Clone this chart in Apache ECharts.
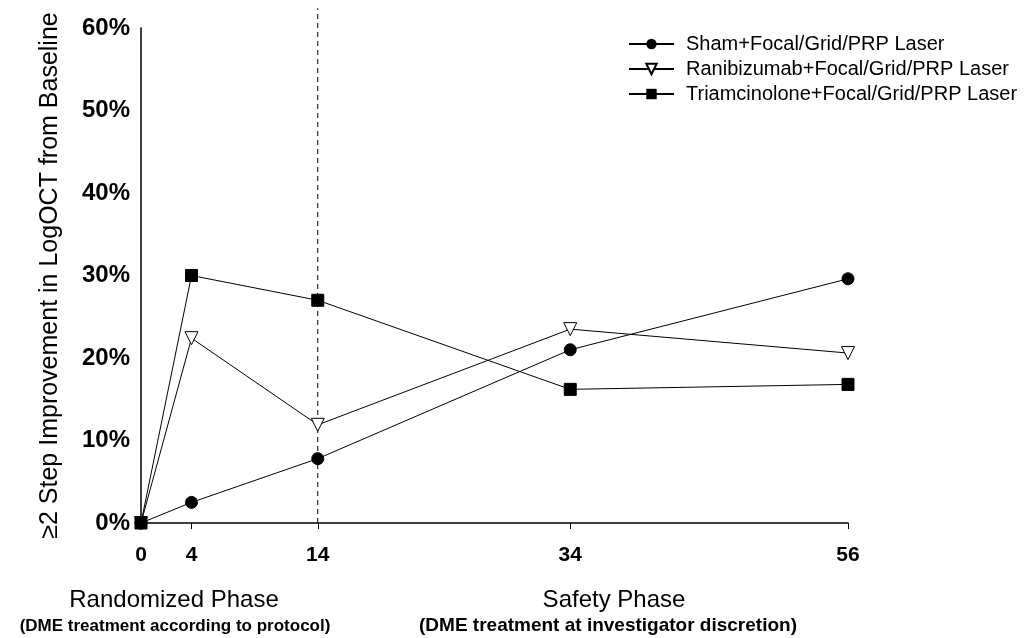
<!DOCTYPE html>
<html><head><meta charset="utf-8">
<script src="https://cdn.jsdelivr.net/npm/echarts@6/dist/echarts.min.js"></script>
<style>html,body{margin:0;padding:0;background:#fff}#c{width:1032px;height:638px}</style>
</head><body><div id="c"></div>
<script>
const weeks = [0, 4, 14, 34, 56];
const xTicks = [0, 4, 14, 34, 56];
const yTicks = [0, 10, 20, 30, 40, 50, 60];
const shamValues = [0, 2.5, 7.8, 21.0, 29.6];
const raniValues = [0, 22.4, 11.9, 23.5, 20.6];
const triamValues = [0, 30.0, 27.0, 16.2, 16.8];
const seriesNames = ['Sham+Focal/Grid/PRP Laser', 'Ranibizumab+Focal/Grid/PRP Laser', 'Triamcinolone+Focal/Grid/PRP Laser'];
const phaseBoundary = 14;
const dividerSpan = [0, 62.4];
const yAxisTitle = '\u22652 Step Improvement in LogOCT from Baseline';

const FONT = 'Liberation Sans, Arial, sans-serif';
const pairs = v => weeks.map((w, i) => [w, v[i]]);
const chart = echarts.init(document.getElementById('c'), null, {renderer: 'canvas'});
const base = {type: 'line', lineStyle: {color: '#000', width: 1}, itemStyle: {color: '#000', borderColor: '#000'}, showSymbol: true, animation: false, z: 3};
chart.setOption({
  animation: false,
  backgroundColor: '#fff',
  grid: {left: 141, right: 184, top: 28, bottom: 115, containLabel: false},
  legend: {
    orient: 'vertical', left: 623, top: 29, itemWidth: 45, itemHeight: 13, itemGap: 5,
    textStyle: {fontFamily: FONT, fontSize: 20, color: '#000', padding: [0, 0, 0, 7]},
    data: seriesNames
  },
  xAxis: {
    type: 'value', min: 0, max: 56,
    axisLine: {lineStyle: {color: '#000', width: 1.5}},
    axisTick: {show: true, customValues: xTicks, length: 6, lineStyle: {color: '#000'}},
    axisLabel: {customValues: xTicks, margin: 22, fontFamily: FONT, fontWeight: 'bold', fontSize: 21, color: '#000'},
    splitLine: {show: false}
  },
  yAxis: {
    type: 'value', min: 0, max: 60, interval: 10,
    name: yAxisTitle, nameLocation: 'middle', nameGap: 78, nameRotate: 90,
    nameTextStyle: {fontFamily: FONT, fontSize: 25, color: '#000'},
    axisLine: {show: true, lineStyle: {color: '#000', width: 1.5}},
    axisTick: {show: false},
    axisLabel: {formatter: '{value}%', margin: 11, fontFamily: FONT, fontWeight: 'bold', fontSize: 24, color: '#000'},
    splitLine: {show: false}
  },
  series: [
    {type: 'line', name: 'divider', data: dividerSpan.map(v => [phaseBoundary, v]), symbol: 'none', clip: false, silent: true,
      lineStyle: {color: '#000', width: 1, type: [5, 4]}, z: 1},
    Object.assign({}, base, {name: seriesNames[0], data: pairs(shamValues), symbol: 'circle', symbolSize: 12}),
    Object.assign({}, base, {name: seriesNames[1], data: pairs(raniValues), symbol: 'triangle', symbolRotate: 180, symbolSize: 13,
      itemStyle: {color: '#fff', borderColor: '#000', borderWidth: 1}}),
    Object.assign({}, base, {name: seriesNames[2], data: pairs(triamValues), symbol: 'rect', symbolSize: 12})
  ],
  graphic: [
    {type: 'text', x: 174, y: 600, style: {text: 'Randomized Phase', font: '24px ' + FONT, fill: '#000', align: 'center', verticalAlign: 'middle'}},
    {type: 'text', x: 175, y: 626, style: {text: '(DME treatment according to protocol)', font: 'bold 17px ' + FONT, fill: '#000', align: 'center', verticalAlign: 'middle'}},
    {type: 'text', x: 614, y: 600, style: {text: 'Safety Phase', font: '24px ' + FONT, fill: '#000', align: 'center', verticalAlign: 'middle'}},
    {type: 'text', x: 608, y: 626, style: {text: '(DME treatment at investigator discretion)', font: 'bold 19px ' + FONT, fill: '#000', align: 'center', verticalAlign: 'middle'}}
  ]
});
</script></body></html>
